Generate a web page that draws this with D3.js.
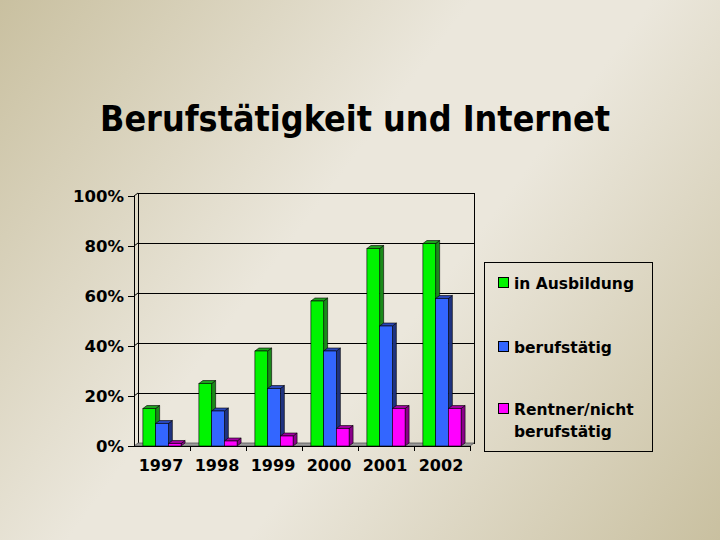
<!DOCTYPE html>
<html>
<head>
<meta charset="utf-8">
<script src="https://cdn.jsdelivr.net/npm/d3@7"></script>
<style>
html,body{margin:0;padding:0;}
svg{display:block;}
text{font-family:"DejaVu Sans",Verdana,sans-serif;font-weight:bold;fill:#000;}
line{shape-rendering:crispEdges;}
</style>
</head>
<body>
<svg id="c" width="720" height="540"></svg>
<script>
// ---- data ----
const years = ["1997","1998","1999","2000","2001","2002"];
const seriesNames = ["in Ausbildung","berufstätig","Rentner/nicht berufstätig"];
const inAusbildung = [0.15, 0.25, 0.38, 0.58, 0.79, 0.81];
const berufstaetig = [0.09, 0.14, 0.23, 0.38, 0.48, 0.59];
const rentner = [0.01, 0.02, 0.04, 0.07, 0.15, 0.15];
const yTicks = [0, 0.2, 0.4, 0.6, 0.8, 1.0];
const title = "Berufstätigkeit und Internet";

const seriesValues = [inAusbildung, berufstaetig, rentner];
const colors = [
  {front:"#00f400", side:"#1a8a1a", top:"#1fa01f"},
  {front:"#3366ff", side:"#1f3380", top:"#2a47b8"},
  {front:"#ff00ff", side:"#8a008a", top:"#a000a0"}
];

const svg = d3.select("#c");

// background gradient
const defs = svg.append("defs");
const lg = defs.append("linearGradient").attr("id","bg")
  .attr("gradientUnits","userSpaceOnUse")
  .attr("x1",0).attr("y1",0).attr("x2",720).attr("y2",540);
lg.append("stop").attr("offset","0").attr("stop-color","#c9c0a0");
lg.append("stop").attr("offset","0.42").attr("stop-color","#ebe7dc");
lg.append("stop").attr("offset","0.58").attr("stop-color","#ebe7dc");
lg.append("stop").attr("offset","1").attr("stop-color","#c9c0a0");
svg.append("rect").attr("width",720).attr("height",540).attr("fill","url(#bg)");

// title
const t = svg.append("text").attr("x",355).attr("y",131).attr("text-anchor","middle")
  .style("font-family",'"DejaVu Sans Condensed","DejaVu Sans",sans-serif')
  .style("font-stretch","condensed")
  .style("font-size","28px").text(title);
const tw = t.node().getComputedTextLength();
t.style("font-size", (28*510/tw).toFixed(2)+"px");

// geometry
const x0L = 134, x0R = 470, yBase = 446, yTop = 196;
const dx = 4, dy = -3;
const y = d3.scaleLinear().domain([0,1]).range([yBase, yTop]);
const x0 = d3.scaleBand().domain(years).range([x0L, x0R]).padding(0);
const x1 = d3.scaleBand().domain(d3.range(3)).range([0, x0.bandwidth()]).paddingInner(0).paddingOuter(0.7);

const g = svg.append("g");

// back wall
g.append("rect").attr("x",x0L+dx+0.5).attr("y",yTop+dy+0.5)
  .attr("width",x0R-x0L).attr("height",yBase-yTop)
  .attr("fill","none").attr("stroke","#000").attr("stroke-width",1);

// gridlines
yTicks.forEach(v=>{
  if(v===0) return;
  g.append("line").attr("x1",x0L+dx).attr("x2",x0R+dx)
    .attr("y1",y(v)+dy+0.5).attr("y2",y(v)+dy+0.5).attr("stroke","#000").attr("stroke-width",1);
  g.append("line").attr("x1",x0L).attr("x2",x0L+dx)
    .attr("y1",y(v)).attr("y2",y(v)+dy).attr("stroke","#000").attr("stroke-width",1)
    .style("shape-rendering","auto");
});

// floor
g.append("polygon")
  .attr("points",[[x0L,yBase],[x0R,yBase],[x0R+dx,yBase+dy],[x0L+dx,yBase+dy]].map(p=>p.join(",")).join(" "))
  .attr("fill","#9a9a9a").attr("stroke","#555").attr("stroke-width",0.8);

// y axis
g.append("line").attr("x1",x0L+0.5).attr("x2",x0L+0.5).attr("y1",yTop).attr("y2",yBase).attr("stroke","#000");
yTicks.forEach(v=>{
  g.append("line").attr("x1",x0L-6).attr("x2",x0L).attr("y1",y(v)+0.5).attr("y2",y(v)+0.5).attr("stroke","#000");
  g.append("text").attr("x",x0L-10).attr("y",y(v)).attr("dy","0.36em")
    .attr("text-anchor","end").style("font-size","16.5px").text(d3.format(".0%")(v));
});

// x axis
g.append("line").attr("x1",x0L).attr("x2",x0R).attr("y1",yBase+0.5).attr("y2",yBase+0.5).attr("stroke","#000");
years.forEach((yr,i)=>{
  const xb = x0(yr)+x0.bandwidth();
  g.append("line").attr("x1",xb+0.5).attr("x2",xb+0.5).attr("y1",yBase).attr("y2",yBase+5).attr("stroke","#000");
  g.append("text").attr("x",x0(yr)+x0.bandwidth()/2-1).attr("y",471)
    .attr("text-anchor","middle").style("font-size","16px").text(yr);
});

// bars
years.forEach((yr,i)=>{
  seriesValues.forEach((vals,s)=>{
    const v = vals[i];
    const bx = x0(yr)+x1(s), w = x1.bandwidth(), by = y(v);
    const c = colors[s];
    const bg = g.append("g");
    bg.append("polygon")
      .attr("points",[[bx+w,by],[bx+w+dx,by+dy],[bx+w+dx,yBase+dy],[bx+w,yBase]].map(p=>p.join(",")).join(" "))
      .attr("fill",c.side).attr("stroke","#000").attr("stroke-width",0.6);
    bg.append("polygon")
      .attr("points",[[bx,by],[bx+dx,by+dy],[bx+w+dx,by+dy],[bx+w,by]].map(p=>p.join(",")).join(" "))
      .attr("fill",c.top).attr("stroke","#000").attr("stroke-width",0.6);
    bg.append("rect").attr("x",bx).attr("y",by).attr("width",w).attr("height",yBase-by)
      .attr("fill",c.front).attr("stroke","#000").attr("stroke-width",0.6);
  });
});

// legend
const leg = svg.append("g");
leg.append("rect").attr("x",484.5).attr("y",262.5).attr("width",168).attr("height",189)
  .attr("fill","none").attr("stroke","#000").attr("stroke-width",1);
const legRows = [
  {lines:["in Ausbildung"], y:289},
  {lines:["berufstätig"], y:353},
  {lines:["Rentner/nicht","berufstätig"], y:415}
];
legRows.forEach((r,s)=>{
  leg.append("rect").attr("x",498.5).attr("y",r.y-11.5).attr("width",10).attr("height",10)
    .attr("fill",colors[s].front).attr("stroke","#000").attr("stroke-width",1);
  r.lines.forEach((ln,k)=>{
    leg.append("text").attr("x",514).attr("y",r.y+k*22).style("font-size","15.5px").text(ln);
  });
});
</script>
</body>
</html>
